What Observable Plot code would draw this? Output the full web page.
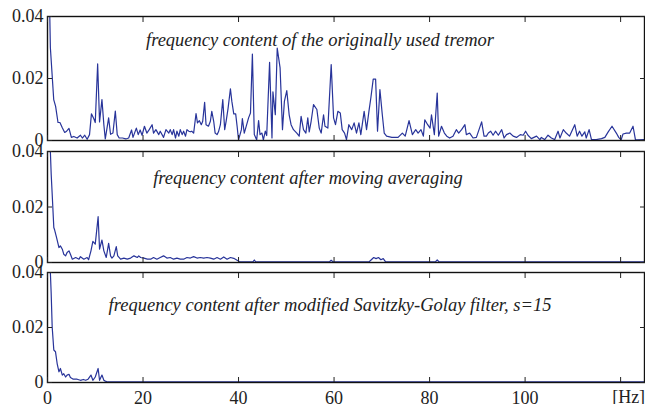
<!DOCTYPE html>
<html><head><meta charset="utf-8">
<script src="https://cdn.jsdelivr.net/npm/d3@7"></script>
<script src="https://cdn.jsdelivr.net/npm/@observablehq/plot@0.6"></script>
<style>
body{margin:0;background:#fff}
#chart{position:relative;width:645px;height:404px;overflow:hidden;background:#fff}
#chart svg{position:absolute;left:0;overflow:visible}
#chart svg, #chart svg text{font-family:"Liberation Serif","Times New Roman",serif !important}
</style>
</head><body><div id="chart"></div>
<script>
// ---------- data ----------
const freq1 = [
 0,0.6,1.3,1.7,2.2,2.6,3.1,3.6,4.0,4.5,
 5.0,5.5,6.2,6.9,7.3,7.8,8.3,8.8,9.2,9.7,
 10.0,10.5,10.9,11.4,11.8,12.1,12.8,13.2,13.7,14.2,
 14.6,15.0,15.7,16.4,17.0,17.6,17.9,18.6,19.0,19.4,
 19.8,20.3,20.8,21.3,21.9,22.2,22.7,23.3,23.6,24.3,
 24.8,25.4,25.7,26.1,26.4,26.8,27.1,27.5,27.8,28.2,
 28.5,28.9,29.2,29.6,29.9,30.2,30.6,31.1,31.4,31.8,
 32.2,32.5,32.9,33.2,33.7,34.1,34.4,34.8,35.1,35.5,
 35.8,36.2,36.7,37.1,37.4,37.8,38.3,38.6,39.0,39.4,
 39.7,40.0,40.6,40.8,41.2,41.5,42.1,42.5,42.9,43.3,
 43.8,44.2,44.5,44.9,45.2,45.6,45.9,46.5,47.0,47.2,
 47.7,48.1,48.7,49.2,49.6,50.1,50.6,51.0,51.5,52.2,
 52.7,53.1,53.6,54.1,54.5,54.8,55.2,55.7,56.4,56.9,
 57.3,57.8,58.1,58.7,59.4,59.9,60.3,60.8,61.3,61.7,
 62.2,62.6,63.1,63.7,64.2,64.7,65.2,65.6,66.3,66.8,
 67.3,67.7,68.2,68.7,69.1,69.6,70.1,70.5,71.0,72.1,
 73.4,74.3,74.9,75.7,76.4,77.1,77.6,78.2,78.7,79.0,
 79.6,80.1,80.4,81.0,81.6,81.9,82.5,83.1,83.6,84.2,
 84.9,85.6,86.1,86.7,87.4,87.7,88.4,89.1,89.8,90.9,
 91.4,91.9,92.3,92.8,93.3,93.8,94.4,95.1,95.6,96.1,
 96.8,97.5,98.2,99.0,99.6,100.1,100.6,101.3,102.4,103.1,
 103.4,104.1,104.8,105.5,106.2,106.9,107.3,108.0,108.6,109.3,
 110.4,110.9,111.4,111.9,112.5,112.8,113.4,113.9,114.9,116.0,
 116.7,117.4,118.2,119.1,119.6,120.1,120.5,121.2,121.9,122.6,
 123.1,123.6,125.0
];
const amp1 = [
 0.08,0.030,0.0132,0.011,0.0058,0.0058,0.0041,0.0026,0.0030,0.0039,
 0.0010,0.0013,0.0008,0.0017,0.0008,0.0017,0.0004,0.0019,0.0086,0.0070,
 0.0058,0.0247,0.0060,0.0132,0.0051,0.0005,0.0073,0.0020,0.0024,0.0095,
 0.0019,0.0008,0.0008,0.0005,0.0008,0.0034,0.0010,0.0040,0.0019,0.0034,
 0.0017,0.0046,0.0024,0.0035,0.0051,0.0024,0.0035,0.0019,0.0030,0.0010,
 0.0035,0.0024,0.0035,0.0019,0.0035,0.0008,0.0030,0.0014,0.0035,0.0019,
 0.0030,0.0014,0.0035,0.0030,0.0028,0.0030,0.0024,0.0087,0.0057,0.0064,
 0.0051,0.0062,0.0123,0.0051,0.0046,0.0062,0.0094,0.0062,0.0024,0.0019,
 0.0028,0.0051,0.0132,0.0035,0.0062,0.0103,0.0167,0.0126,0.0086,0.0086,
 0.0046,0.0002,0.0035,0.0071,0.0024,0.0040,0.0073,0.0089,0.0279,0.0019,
 0.0002,0.0064,0.0019,0.0024,0.0002,0.0030,0.0016,0.0252,0.0008,0.0157,
 0.0083,0.0298,0.0234,0.0035,0.0126,0.0161,0.0083,0.0051,0.0035,0.0024,
 0.0014,0.0078,0.0035,0.0024,0.0073,0.0028,0.0062,0.0116,0.0100,0.0040,
 0.0024,0.0083,0.0046,0.0040,0.0245,0.0073,0.0051,0.0094,0.0089,0.0035,
 0.0024,0.0003,0.0051,0.0035,0.0057,0.0024,0.0057,0.0019,0.0094,0.0035,
 0.0094,0.0137,0.0198,0.0198,0.0030,0.0164,0.0083,0.0024,0.0014,0.0010,
 0.0010,0.0024,0.0014,0.0064,0.0019,0.0035,0.0024,0.0035,0.0014,0.0067,
 0.0051,0.0040,0.0083,0.0019,0.0153,0.0014,0.0046,0.0024,0.0014,0.0008,
 0.0014,0.0035,0.0024,0.0035,0.0051,0.0019,0.0024,0.0008,0.0010,0.0060,
 0.0014,0.0014,0.0024,0.0030,0.0017,0.0030,0.0017,0.0035,0.0008,0.0019,
 0.0024,0.0014,0.0010,0.0019,0.0017,0.0030,0.0017,0.0006,0.0014,0.0003,
 0.0010,0.0003,0.0017,0.0008,0.0003,0.0030,0.0008,0.0035,0.0024,0.0014,
 0.0051,0.0014,0.0030,0.0014,0.0028,0.0008,0.0035,0.0003,0.0003,0.0006,
 0.0010,0.0028,0.0046,0.0024,0.0010,0.0002,0.0021,0.0024,0.0024,0.0046,
 0.0003,0.0002,0.0003
];
const freq2 = [
 0,0.6,0.77,0.98,1.32,1.5,1.9,2.4,2.7,3.1,
 3.4,3.8,4.1,4.5,4.8,5.2,5.9,6.6,6.9,7.6,
 8.3,8.6,9.1,9.5,10.0,10.6,10.9,11.4,11.8,12.3,
 12.8,13.2,13.5,13.9,14.4,14.7,15.3,16.0,16.7,17.4,
 18.1,18.8,19.1,19.5,20.2,20.9,21.6,22.2,22.9,23.6,
 24.3,25.0,25.7,26.4,27.1,27.8,28.5,29.2,29.9,30.6,
 31.3,32.0,32.7,33.4,34.1,34.8,35.5,36.2,36.9,37.6,
 38.3,39.0,39.7,40.3,43.0,43.3,43.6,59.0,59.4,59.8,
 67.3,67.8,68.3,68.8,69.3,69.8,70.3,70.8,81.2,81.6,
 82.0,125.0
];
const amp2 = [
 0.08,0.040,0.0319,0.0247,0.0126,0.0117,0.0090,0.0054,0.0060,0.0048,
 0.0030,0.0024,0.0036,0.0042,0.0030,0.0012,0.0018,0.0012,0.0021,0.0012,
 0.0018,0.0010,0.0042,0.0076,0.0066,0.0165,0.0048,0.0081,0.0042,0.0018,
 0.0069,0.0024,0.0016,0.0024,0.0057,0.0024,0.0012,0.0016,0.0012,0.0016,
 0.0024,0.0018,0.0024,0.0018,0.0016,0.0012,0.0012,0.0018,0.0012,0.0018,
 0.0024,0.0016,0.0018,0.0012,0.0016,0.0012,0.0012,0.0018,0.0016,0.0021,
 0.0016,0.0018,0.0016,0.0018,0.0016,0.0012,0.0018,0.0012,0.0020,0.0012,
 0.0018,0.0015,0.0008,0.0002,0.0002,0.0009,0.0002,0.0002,0.0008,0.0002,
 0.0002,0.0010,0.0018,0.0014,0.0018,0.0010,0.0014,0.0002,0.0002,0.0009,
 0.0002,0.0002
];
const freq3 = [
 0,0.6,0.77,0.98,1.32,1.67,2.02,2.4,2.7,3.1,
 3.4,3.8,4.1,4.5,4.8,5.4,6.2,6.9,7.5,8.0,
 8.5,9.1,9.5,10.0,10.6,10.9,11.4,11.8,12.1,12.6,
 125.0
];
const amp3 = [
 0.08,0.040,0.0324,0.0202,0.0118,0.0112,0.0069,0.0039,0.0051,0.0027,
 0.0032,0.0020,0.0027,0.0030,0.0018,0.0012,0.0012,0.0008,0.0011,0.0008,
 0.0012,0.0027,0.0008,0.0020,0.0051,0.0008,0.0027,0.0008,0.0005,0.0002,
 0.0002
];
const titles = [
 "frequency content of the originally used tremor",
 "frequency content after moving averaging",
 "frequency content after modified Savitzky-Golay filter, s=15"
];
const xTicks = [0, 20, 40, 60, 80, 100, 120];
const xNumTicks = [0, 20, 40, 60, 80, 100];
const unitTick = [120];
const unitLabel = "[Hz]";
const yTicks = [0, 0.02, 0.04];
const yTickLabels = ["0", "0.02", "0.04"];

// ---------- drawing ----------
const FONT = "Liberation Serif";
const BLUE = "#28349a";
const chart = document.getElementById("chart");

function panel(freq, amp, title, cfg) {
  const data = freq.map((f, i) => ({f, a: amp[i]}));
  const marks = [
    Plot.line(data, {x: "f", y: "a", stroke: BLUE, strokeWidth: 1.2, clip: true}),
    Plot.frame({stroke: "#111", strokeWidth: 1.4}),
    Plot.axisX({anchor: "top", ticks: xTicks, tickSize: -5, tickFormat: () => "", label: null}),
    Plot.axisX({anchor: "bottom", ticks: xTicks, tickSize: -5, tickFormat: () => "", label: null}),
    Plot.axisY({anchor: "left", ticks: yTicks, tickSize: -5, tickFormat: () => "", label: null}),
    Plot.axisY({anchor: "right", ticks: yTicks, tickSize: -5, tickFormat: () => "", label: null}),
    Plot.axisY({anchor: "left", ticks: yTicks, tickSize: 0, tickPadding: 4, fontSize: 18, fontFamily: FONT,
      tickFormat: d => yTickLabels[yTicks.indexOf(d)], label: null}),
    Plot.text([title], {text: d => d, frameAnchor: "top", dx: cfg.tdx, dy: cfg.tdy,
      fontStyle: "italic", fontSize: 18.5, fontFamily: FONT, fill: "#222"})
  ];
  if (cfg.showX) {
    marks.push(Plot.axisX({anchor: "bottom", ticks: xNumTicks, tickSize: 0, tickPadding: 9, fontSize: 18, fontFamily: FONT,
      tickFormat: d => String(d), label: null}));
    marks.push(Plot.axisX({anchor: "bottom", ticks: unitTick, tickSize: 0, tickPadding: 8, fontSize: 18, fontFamily: FONT,
      dx: 8, tickFormat: () => unitLabel, label: null}));
  }
  const svg = Plot.plot({
    width: 645,
    height: cfg.height,
    marginLeft: 47,
    marginRight: 1,
    marginTop: cfg.mt,
    marginBottom: cfg.mb,
    style: {background: "transparent", overflow: "visible", color: "#222"},
    x: {domain: [0, 125]},
    y: {domain: [0, 0.04]},
    marks
  });
  svg.style.top = cfg.top + "px";
  chart.appendChild(svg);
}

panel(freq1, amp1, titles[0], {top: 0, height: 141, mt: 16, mb: 1, tdx: -26, tdy: 16.5});
panel(freq2, amp2, titles[1], {top: 140, height: 123, mt: 11, mb: 1, tdx: -38, tdy: 19});
panel(freq3, amp3, titles[2], {top: 262, height: 142, mt: 10, mb: 22, tdx: -16, tdy: 25, showX: true});
</script>
</body></html>
